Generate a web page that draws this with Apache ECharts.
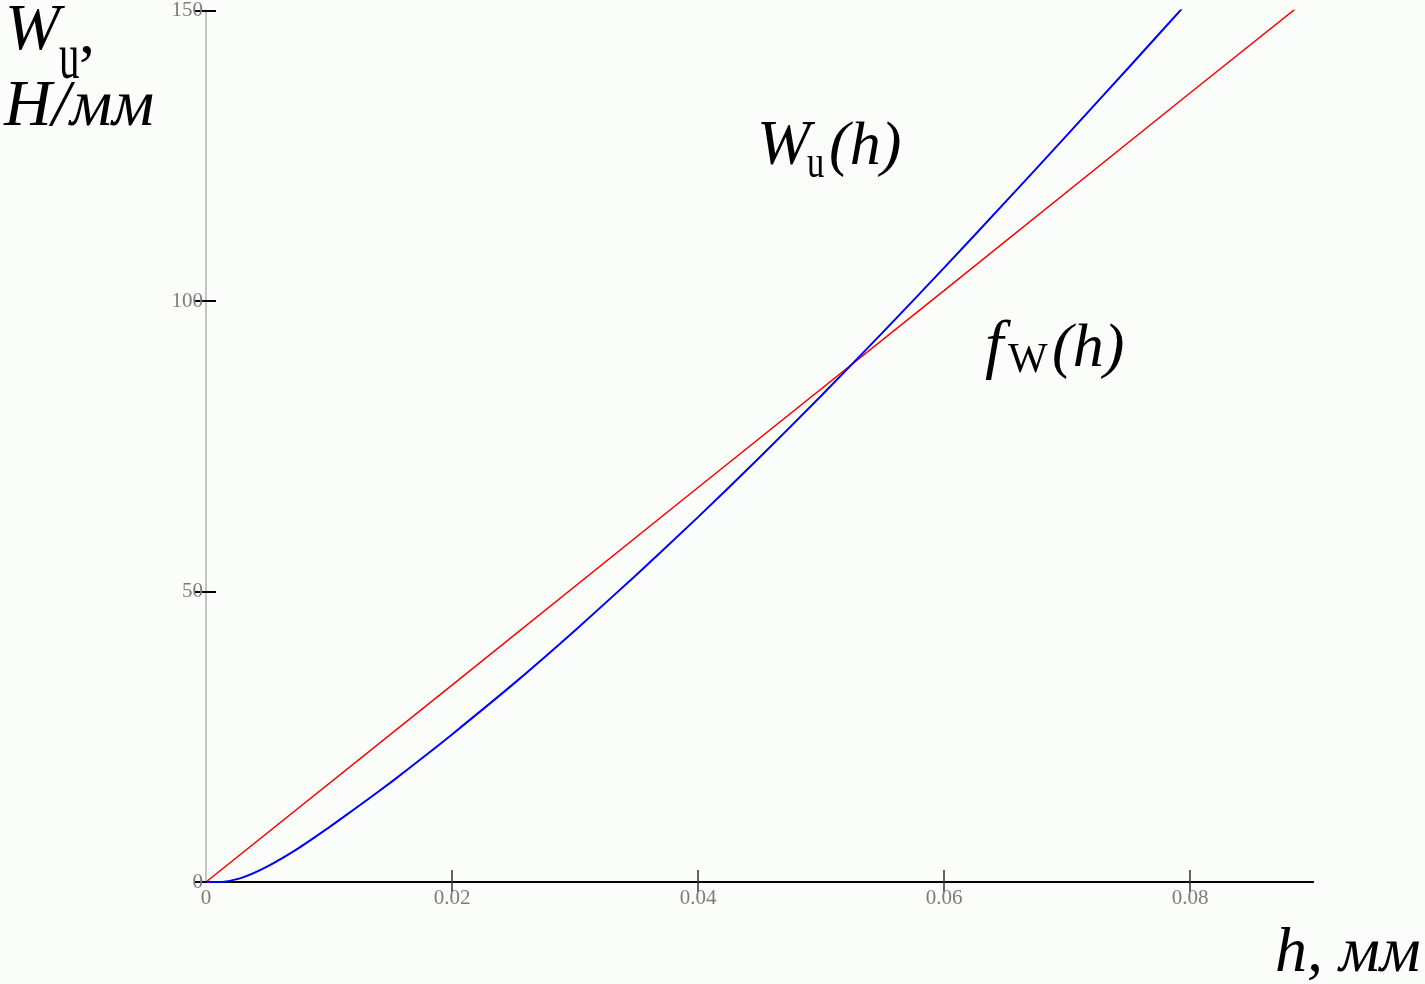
<!DOCTYPE html>
<html lang="ru">
<head>
  <meta charset="utf-8">
  <title>W_u(h), f_W(h)</title>
  <script src="https://cdn.jsdelivr.net/npm/echarts@6/dist/echarts.min.js"></script>
  <style>
    html, body { margin: 0; padding: 0; background: #fbfdfb; }
    #chart { width: 1425px; height: 984px; }
  </style>
</head>
<body>
<div id="chart"></div>

<script>
// data
var hBlue = [0, 0.0015, 0.003, 0.005, 0.0075, 0.01, 0.0125, 0.015, 0.0175, 0.02, 0.025, 0.03, 0.035, 0.04, 0.045, 0.05, 0.055, 0.06, 0.065, 0.07, 0.075, 0.08];
var wBlue = [0, 0.05, 0.8, 2.7, 5.8, 9.4, 13.2, 17.1, 21.2, 25.4, 34.1, 43.3, 52.9, 62.8, 73.05, 83.65, 94.55, 105.7, 117.05, 128.55, 140.15, 151.85];

var hRed = [0, 0.02, 0.04, 0.06, 0.08, 0.09];
var wRed = [0, 33.9, 67.9, 101.8, 135.8, 152.7];

var xTicks = { min: 0, max: 0.09, interval: 0.02, marks: [0.02, 0.04, 0.06, 0.08] };
var yTicks = { min: 0, max: 150, interval: 50 };

function pairs(xs, ys) {
  var out = [];
  for (var i = 0; i < xs.length; i++) out.push([xs[i], ys[i]]);
  return out;
}

var serif = '"Liberation Serif", "Times New Roman", serif';
var tickLabel = { color: '#7c7c7c', fontFamily: serif, fontSize: 21 };

// text pieces (baseline approx, middle = baseline - 0.33*size)
function txt(str, x, base, size, italic, sx) {
  return {
    type: 'text',
    x: x,
    y: base - size * 0.33,
    scaleX: sx || 1,
    style: {
      text: str,
      x: 0, y: 0,
      fill: '#000',
      font: (italic ? 'italic ' : '') + size + 'px ' + serif,
      textAlign: 'left',
      textVerticalAlign: 'middle'
    },
    silent: true
  };
}

var chart = echarts.init(document.getElementById('chart'));

var option = {
  backgroundColor: '#fbfdfb',
  animation: false,
  grid: { left: 206, right: 112, top: 8, bottom: 102 },
  xAxis: [
    {
      type: 'value',
      position: 'bottom',
      min: xTicks.min, max: xTicks.max, interval: xTicks.interval,
      axisLine: { show: true, lineStyle: { color: '#000', width: 2 } },
      axisTick: { show: true, inside: true, length: 12, customValues: xTicks.marks, lineStyle: { color: '#333', width: 1.5 } },
      axisLabel: Object.assign({ margin: 6, showMaxLabel: false }, tickLabel),
      splitLine: { show: false }
    },
    {
      type: 'value',
      position: 'top',
      min: xTicks.min, max: xTicks.max, interval: xTicks.interval,
      axisLine: { show: true, lineStyle: { color: '#000', width: 2 } },
      axisTick: { show: true, inside: true, length: 10, customValues: xTicks.marks, lineStyle: { color: '#333', width: 1.5 } },
      axisLabel: { show: false },
      splitLine: { show: false }
    }
  ],
  yAxis: [
    {
      type: 'value',
      position: 'left',
      min: yTicks.min, max: yTicks.max, interval: yTicks.interval,
      axisLine: { show: true, lineStyle: { color: '#c4c4c4', width: 2 } },
      axisTick: { show: true, inside: true, length: 10, lineStyle: { color: '#000', width: 2 } },
      axisLabel: Object.assign({ margin: 3 }, tickLabel),
      splitLine: { show: false }
    },
    {
      type: 'value',
      position: 'right',
      min: yTicks.min, max: yTicks.max, interval: yTicks.interval,
      axisLine: { show: true, lineStyle: { color: '#c4c4c4', width: 2 } },
      axisTick: { show: true, inside: true, length: 11, lineStyle: { color: '#000', width: 2 } },
      axisLabel: { show: false },
      splitLine: { show: false }
    }
  ],
  series: [
    {
      name: 'fW(h)',
      type: 'line',
      data: pairs(hRed, wRed),
      showSymbol: false,
      clip: true,
      lineStyle: { color: '#ff0000', width: 1.5 }
    },
    {
      name: 'Wu(h)',
      type: 'line',
      data: pairs(hBlue, wBlue),
      showSymbol: false,
      smooth: 0.2,
      clip: true,
      lineStyle: { color: '#0000ff', width: 2 }
    }
  ],
  graphic: [
    // y axis name
    txt('W', 5, 53, 66, true),
    txt('u', 59, 82, 66, false, 0.62),
    txt(',', 79, 57, 64, false),
    txt('H/мм', 4, 129, 66, true),
    // x axis name
    txt('h, мм', 1275, 975, 64, true),
    // curve names
    txt('W', 757, 168, 64, true),
    txt('u', 807, 180, 46, false, 0.75),
    txt('(h)', 829, 168, 62, true),
    txt('f', 985, 370, 66, true),
    txt('W', 1008, 375, 42, false),
    txt('(h)', 1052, 370, 62, true)
  ]
};

chart.setOption(option);
</script>
</body>
</html>
